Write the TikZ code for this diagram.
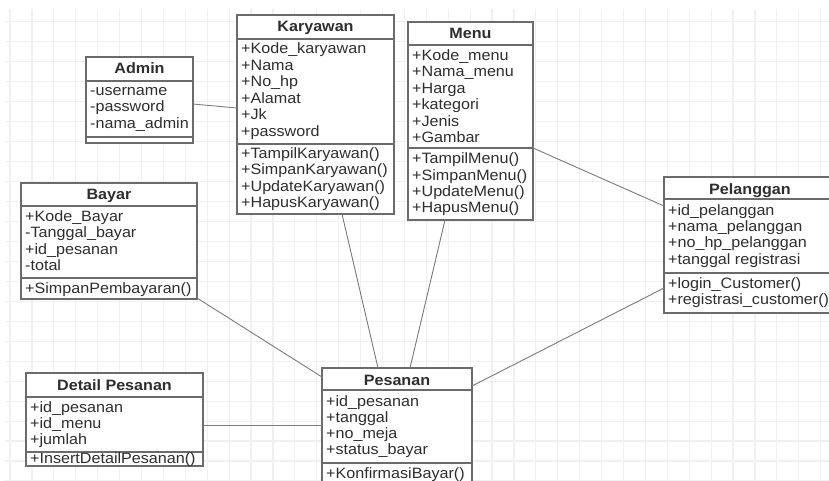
\documentclass[tikz,border=0pt]{standalone}
\usepackage{fontspec}
\setmainfont{Liberation Sans}[FakeStretch=1.075]
\usetikzlibrary{calc}

\definecolor{boxgray}{HTML}{6B6B6B}
\definecolor{linkgray}{HTML}{7A7A7A}
\definecolor{txt}{HTML}{2E2E2E}
\definecolor{gridgray}{HTML}{F0F0F0}

\newcommand{\classfont}{\fontsize{15}{18}\selectfont}

\tikzset{
  classbox/.style={draw=boxgray, fill=white, line width=1.1pt, inner sep=0pt, outer sep=0pt, anchor=north west},
  sepline/.style={draw=boxgray, line width=1.1pt},
  head/.style={font=\classfont\bfseries, text=txt, inner sep=0pt, anchor=base},
  row/.style={font=\classfont, text=txt, inner sep=0pt, anchor=base west},
  link/.style={draw=linkgray, line width=0.9pt},
  gridline/.style={draw=gridgray, line width=1.2pt}
}

% one text row per list item: prefix, x, first baseline, pitch, items
\newcommand{\classrows}[5]{%
  \foreach \t [count=\i from 0] in {#5}{%
    \node[row] (#1\i) at (#2, #3+#4*\i) {\t};}}

\begin{document}
\begin{tikzpicture}[x=1pt, y=-1pt]
\useasboundingbox (0,0) rectangle (829,481);
\clip (0,0) rectangle (829,481);

% background grid
\foreach \k in {0,...,37}
  \draw[gridline] (10+21.91*\k, 9) -- (10+21.91*\k, 481);
\foreach \k in {0,...,23}
  \draw[gridline] (5, 21.7+19.97*\k) -- (829, 21.7+19.97*\k);

% class boxes
\node[classbox, minimum width=107pt, minimum height=86pt] (admin) at (86,57) {};
\node[classbox, minimum width=157pt, minimum height=199pt] (kar) at (237,15) {};
\node[classbox, minimum width=125pt, minimum height=198pt] (menu) at (408,22) {};
\node[classbox, minimum width=176pt, minimum height=116pt] (bayar) at (21,183) {};
\node[classbox, minimum width=172pt, minimum height=136pt] (pel) at (664,177) {};
\node[classbox, minimum width=177pt, minimum height=93pt] (det) at (26,373) {};
\node[classbox, minimum width=150pt, minimum height=120pt] (pes) at (322,368) {};

% associations
\draw[link] ([yshift=-47pt]admin.north east) -- ([yshift=-93pt]kar.north west);
\draw[link] ([xshift=105pt]kar.south west) -- ([xshift=56pt]pes.north west);
\draw[link] ([xshift=37pt]menu.south west) -- ([xshift=88pt]pes.north west);
\draw[link] ([yshift=-126pt]menu.north east) -- ([yshift=-29pt]pel.north west);
\draw[link] ([yshift=-111pt]pel.north west) -- ([yshift=-18pt]pes.north east);
\draw[link] ([yshift=1pt]bayar.south east) -- ([yshift=-9pt]pes.north west);
\draw[link] ([yshift=-52pt]det.north east) -- ([yshift=-57pt]pes.north west);

% Admin
\draw[sepline] ([yshift=-24pt]admin.north west) -- ([yshift=-24pt]admin.north east);
\draw[sepline] ([yshift=6pt]admin.south west) -- ([yshift=6pt]admin.south east);
\node[head] (admin-h) at ([yshift=-17pt]admin.north) {Admin};
\classrows{admin-a}{90}{95.5}{16.4}{-username,-password,-nama\_admin}

% Karyawan
\draw[sepline] ([yshift=-24pt]kar.north west) -- ([yshift=-24pt]kar.north east);
\draw[sepline] ([yshift=-129pt]kar.north west) -- ([yshift=-129pt]kar.north east);
\node[head] (kar-h) at ([yshift=-17pt]kar.north) {Karyawan};
\classrows{kar-a}{241}{54}{16.5}{+Kode\_karyawan,+Nama,+No\_hp,+Alamat,+Jk,+password}
\classrows{kar-m}{241}{158.5}{16.3}{+TampilKaryawan(),+SimpanKaryawan(),+UpdateKaryawan(),+HapusKaryawan()}

% Menu
\draw[sepline] ([yshift=-23pt]menu.north west) -- ([yshift=-23pt]menu.north east);
\draw[sepline] ([yshift=-126pt]menu.north west) -- ([yshift=-126pt]menu.north east);
\node[head] (menu-h) at ([yshift=-17pt]menu.north) {Menu};
\classrows{menu-a}{412}{60.5}{16.4}{+Kode\_menu,+Nama\_menu,+Harga,+kategori,+Jenis,+Gambar}
\classrows{menu-m}{412}{164}{16.3}{+TampilMenu(),+SimpanMenu(),+UpdateMenu(),+HapusMenu()}

% Bayar
\draw[sepline] ([yshift=-23pt]bayar.north west) -- ([yshift=-23pt]bayar.north east);
\draw[sepline] ([yshift=-95pt]bayar.north west) -- ([yshift=-95pt]bayar.north east);
\node[head] (bayar-h) at ([yshift=-17pt]bayar.north) {Bayar};
\classrows{bayar-a}{25}{221.5}{16.4}{+Kode\_Bayar,-Tanggal\_bayar,+id\_pesanan,-total}
\classrows{bayar-m}{25}{293}{16.3}{+SimpanPembayaran()}

% Pelanggan
\draw[sepline] ([yshift=-22pt]pel.north west) -- ([yshift=-22pt]pel.north east);
\draw[sepline] ([yshift=-96pt]pel.north west) -- ([yshift=-96pt]pel.north east);
\node[head] (pel-h) at ([yshift=-17pt]pel.north) {Pelanggan};
\classrows{pel-a}{668}{215}{16.4}{+id\_pelanggan,+nama\_pelanggan,+no\_hp\_pelanggan,+tanggal registrasi}
\classrows{pel-m}{668}{288.5}{16.3}{+login\_Customer(),+registrasi\_customer()}

% Detail Pesanan
\draw[sepline] ([yshift=-24pt]det.north west) -- ([yshift=-24pt]det.north east);
\draw[sepline] ([yshift=-79pt]det.north west) -- ([yshift=-79pt]det.north east);
\node[head] (det-h) at ([yshift=-17pt]det.north) {Detail Pesanan};
\classrows{det-a}{30}{412.5}{16}{+id\_pesanan,+id\_menu,+jumlah}
\classrows{det-m}{30}{463.5}{16}{+InsertDetailPesanan()}

% Pesanan
\draw[sepline] ([yshift=-22pt]pes.north west) -- ([yshift=-22pt]pes.north east);
\draw[sepline] ([yshift=-95pt]pes.north west) -- ([yshift=-95pt]pes.north east);
\node[head] (pes-h) at ([yshift=-17pt]pes.north) {Pesanan};
\classrows{pes-a}{326}{406}{16.3}{+id\_pesanan,+tanggal,+no\_meja,+status\_bayar}
\classrows{pes-m}{326}{478}{16.3}{+KonfirmasiBayar()}
\end{tikzpicture}
\end{document}
